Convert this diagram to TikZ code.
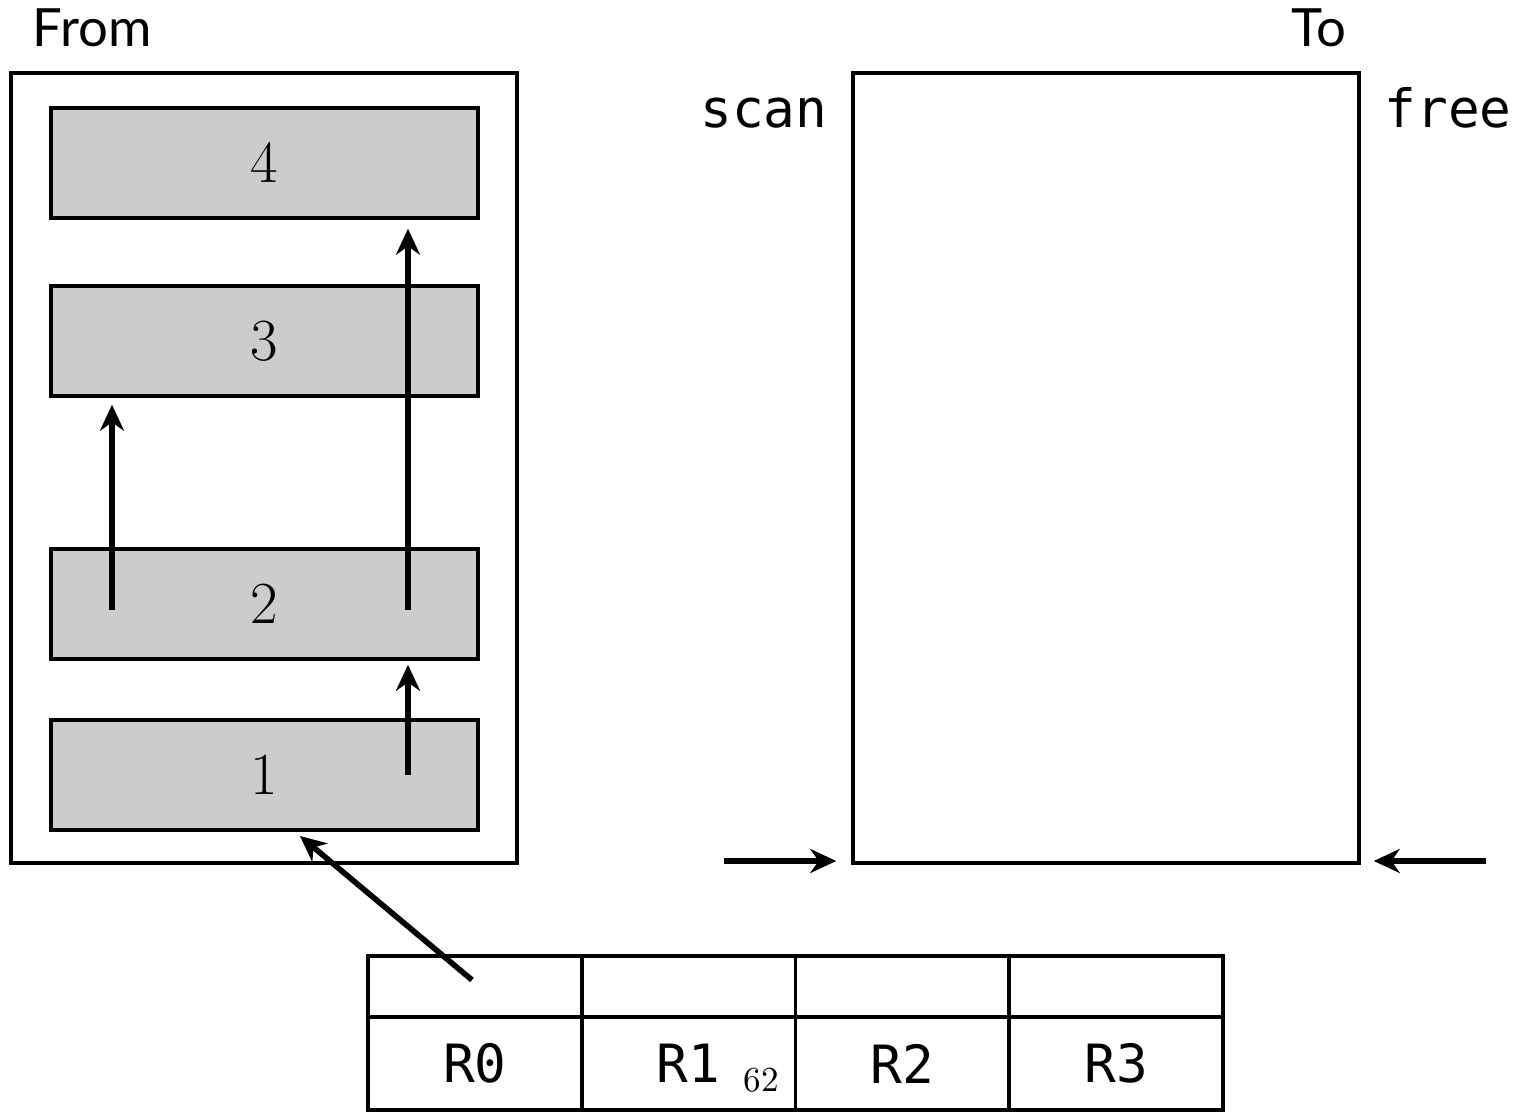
\documentclass[tikz,border=0pt]{standalone}
\usepackage{fontspec}
\setsansfont{Lato}
\setmonofont{DejaVu Sans Mono}
\usetikzlibrary{arrows.meta,positioning,calc}

\begin{document}
\begin{tikzpicture}[
        blk/.style={rectangle,draw=black,fill=black!20,line width=1pt,
                    minimum width=4.27cm,minimum height=1.10cm,inner sep=0pt,
                    font=\fontsize{17}{19}\selectfont},
        space/.style={rectangle,draw=black,line width=1pt,
                      minimum width=5.06cm,minimum height=7.90cm},
        cell/.style={rectangle,draw=black,line width=1pt,inner sep=0pt,
                     minimum width=2.1375cm,font=\ttfamily\fontsize{15}{17}\selectfont},
        arr/.style={-{Stealth[length=0.26cm,width=0.24cm]},line width=1.6pt},
        lbl/.style={inner sep=0pt,font=\sffamily\fontsize{15}{17}\selectfont},
        ptr/.style={inner sep=0pt,font=\ttfamily\fontsize{15}{17}\selectfont}]
  \useasboundingbox (0,0) rectangle (15.2,-11.12);
  % semispaces
  \node[space] (from) at (2.64,-4.68)  {};
  \node[space] (to)   at (11.06,-4.68) {};
  \node[lbl,anchor=base west] (fromlbl) at (0.32,-0.47)  {From};
  \node[lbl,anchor=base east] (tolbl)   at (13.47,-0.47) {To};
  \node[ptr,anchor=base east] (scan) at (8.28,-1.28)  {scan};
  \node[ptr,anchor=base west] (free) at (13.84,-1.28) {free};
  % objects in from-space
  \node[blk] (b4) at (2.645,-1.63) {4};
  \node[blk] (b3) at (2.645,-3.41) {3};
  \node[blk] (b2) at (2.645,-6.04) {2};
  \node[blk] (b1) at (2.645,-7.75) {1};
  \coordinate (p2a) at (1.12,-6.10);
  \coordinate (p2b) at (4.08,-6.10);
  \coordinate (p1)  at (4.08,-7.75);
  \draw[arr,shorten >=0.07cm] (p2a) -- (p2a |- b3.south);
  \draw[arr,shorten >=0.09cm] (p2b) -- (p2b |- b4.south);
  \draw[arr,shorten >=0.04cm] (p1)  -- (p1 |- b2.south);
  % roots
  \foreach \i/\x in {0/4.749,1/6.886,2/9.024,3/11.161}{
    \node[cell,minimum height=0.61cm] (c\i) at (\x,-9.865)  {};
    \node[cell,minimum height=0.93cm] (r\i) at (\x,-10.635) {R\i};
  }
  \node[font=\fontsize{10}{12}\selectfont] (pg) at (7.61,-10.80) {62};
  \coordinate (root) at (4.72,-9.80);
  \coordinate (hit)  at (3.00,-8.36);
  \draw[arr] (root) -- (hit);
  % scan and free pointers
  \coordinate (s0) at (7.24,-8.61);
  \coordinate (f0) at (14.86,-8.61);
  \draw[arr,shorten >=0.15cm] (s0) -- (s0 -| to.west);
  \draw[arr,shorten >=0.13cm] (f0) -- (f0 -| to.east);
\end{tikzpicture}
\end{document}
